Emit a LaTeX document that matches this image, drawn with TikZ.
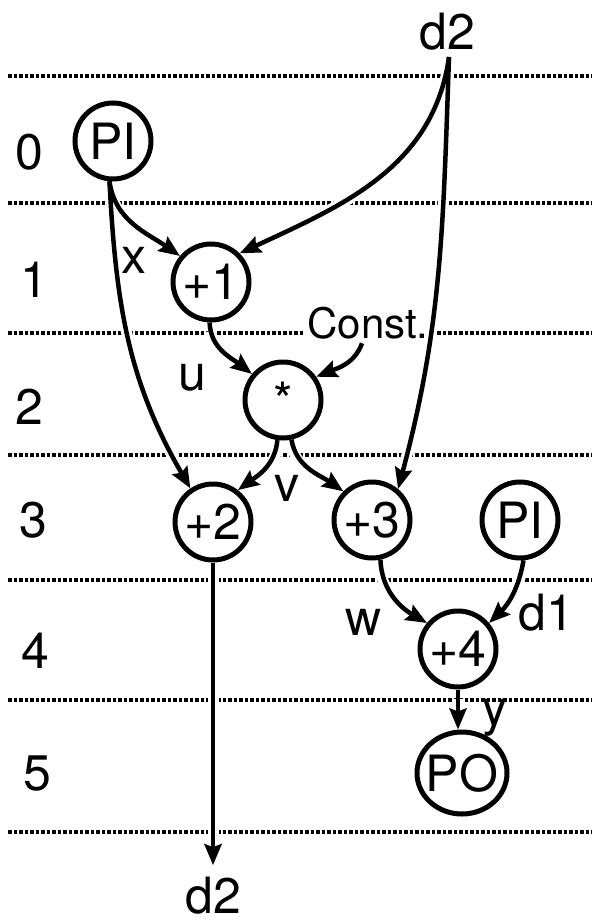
\documentclass[tikz,border=0pt]{standalone}
\usepackage{fontspec}
\setmainfont{TeX Gyre Heros}
\usetikzlibrary{arrows.meta,shapes.geometric}
\begin{document}
\begin{tikzpicture}[x=1pt,y=-1pt,
  every node/.style={font=\fontsize{50}{54}\selectfont},
  op/.style={circle,draw,line width=5pt,minimum size=76pt,inner sep=0pt},
  oval/.style={ellipse,draw,line width=5pt,minimum width=90pt,minimum height=82pt,inner sep=0pt},
  lab/.style={inner sep=0pt},
  arr/.style={line width=4.5pt,-{Stealth[length=21pt,width=17pt,inset=3pt]}},
  halo/.style={draw=white,line width=11pt,shorten <=9pt,shorten >=9pt},
  grid/.style={line width=4pt,dash pattern=on 3.5pt off 2pt}]
\useasboundingbox (0,0) rectangle (592,923);
\fill[white] (0,0) rectangle (592,923);
% level lines
\foreach \yy in {76,203,333,455,580,700,832}
  \draw[grid] (8,\yy) -- (592,\yy);
% level numbers
\node[lab] (l0) at (29,152) {0};
\node[lab] (l1) at (34,280) {1};
\node[lab] (l2) at (29,407) {2};
\node[lab] (l3) at (33,520) {3};
\node[lab] (l4) at (35,651) {4};
\node[lab] (l5) at (37,774) {5};
% operation nodes
\node[op] (pi0) at (113,141) {PI};
\node[op] (p1) at (211,282) {+1};
\node[op] (m) at (283,400) {*};
\node[op] (p2) at (213,522) {+2};
\node[op] (p3) at (372,520) {+3};
\node[op] (pi3) at (520,520) {PI};
\node[op] (p4) at (458,649) {+4};
\node[oval,label={[lab]center:PO}] (po) at (462,773) {};
% labels
\node[lab] (d2top) at (447,32) {d2};
\coordinate (d2s) at (449,57);
\node[lab] (d2b) at (213,896) {d2};
\node[lab] (lx) at (134,260) {x};
\node[lab] (lu) at (192,378) {u};
\node[lab] (lv) at (287,488) {v};
\node[lab] (lw) at (364,622) {w};
\node[lab] (ld1) at (546,613) {d1};
\node[lab] (ly) at (495,718) {y};
% connectors: white halo first, then the arrows
\foreach \st in {halo}{
  \draw[\st] (pi0.265) to[out=-82,in=145] (p1.140);
  \draw[\st] (d2s) to[out=-98,in=25] (p1.45);
  \draw[\st] (d2s) to[out=-92,in=75] (p3.50);
  \draw[\st] (pi0.265) to[out=-87,in=120] (p2.124);
  \draw[\st] (p1.268) to[out=-88,in=142] (m.140);
  \draw[\st] (m.262) to[out=-95,in=36] (p2.52);
  \draw[\st] (m.282) to[out=-80,in=145] (p3.135);
  \draw[\st,shorten >=12pt] (p2.south) -- (p2.south |- d2b.north);
  \draw[\st] (p3.-78) to[out=-88,in=150] (p4.140);
  \draw[\st] (pi3.-85) to[out=-100,in=44] (p4.40);
  \draw[\st] (p4.south) -- (p4.south |- po.north);
}
\node[lab,fill=white,inner sep=4pt,font=\fontsize{42}{46}\selectfont] (const) at (368,323) {Const.};
\draw[halo] ([xshift=-6pt]const.south) to[out=-110,in=22] (m.35);
\foreach \st in {arr}{
  \draw[\st] (pi0.265) to[out=-82,in=145] (p1.140);
  \draw[\st] (d2s) to[out=-98,in=25] (p1.45);
  \draw[\st] (d2s) to[out=-92,in=75] (p3.50);
  \draw[\st] (pi0.265) to[out=-87,in=120] (p2.124);
  \draw[\st] (p1.268) to[out=-88,in=142] (m.140);
  \draw[\st] ([xshift=-6pt]const.south) to[out=-110,in=22] (m.35);
  \draw[\st] (m.262) to[out=-95,in=36] (p2.52);
  \draw[\st] (m.282) to[out=-80,in=145] (p3.135);
  \draw[\st,shorten >=12pt] (p2.south) -- (p2.south |- d2b.north);
  \draw[\st] (p3.-78) to[out=-88,in=150] (p4.140);
  \draw[\st] (pi3.-85) to[out=-100,in=44] (p4.40);
  \draw[\st] (p4.south) -- (p4.south |- po.north);
}
\end{tikzpicture}
\end{document}
